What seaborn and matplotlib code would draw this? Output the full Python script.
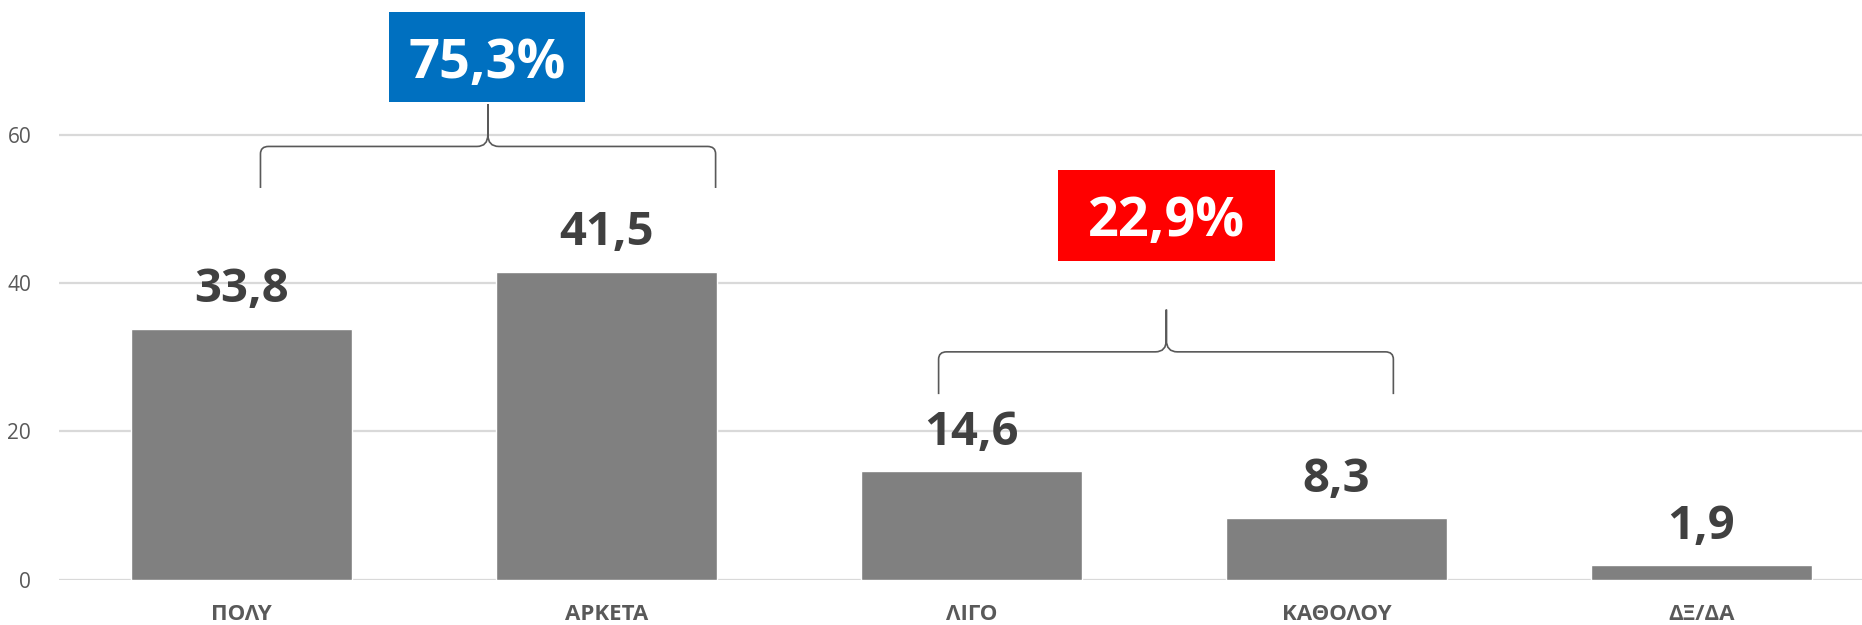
import matplotlib
matplotlib.use("Agg")
import matplotlib.pyplot as plt
import seaborn as sns
from matplotlib.path import Path
from matplotlib.patches import PathPatch, Rectangle

categories = ["ΠΟΛΥ", "ΑΡΚΕΤΑ", "ΛΙΓΟ", "ΚΑΘΟΛΟΥ", "ΔΞ/ΔΑ"]
values = [33.8, 41.5, 14.6, 8.3, 1.9]
value_labels = ["33,8", "41,5", "14,6", "8,3", "1,9"]
yticks = [0, 20, 40, 60]
group_labels = ["75,3%", "22,9%"]
group_colors = ["#0070C0", "#FF0000"]

sns.set_style("white")
plt.rcParams["font.family"] = ["Open Sans", "DejaVu Sans"]

fig = plt.figure(figsize=(18.62, 6.25), dpi=100)
ax = fig.add_axes([59 / 1862, 45.5 / 625, 1 - 59 / 1862, 579.5 / 625])

sns.barplot(x=categories, y=values, color="#808080", saturation=1, width=0.605, ax=ax, zorder=3)

ax.set_xlim(-0.5, 4.44)
ax.set_ylim(0, 78.15)
ax.set_yticks(yticks)
ax.set_yticklabels([str(t) for t in yticks])
ax.yaxis.grid(True, color="#D9D9D9", linewidth=1.6, zorder=0)
ax.set_axisbelow(True)
for s in ax.spines.values():
    s.set_visible(False)
ax.tick_params(axis="y", length=0, pad=20, labelsize=15, labelcolor="#595959")
ax.tick_params(axis="x", length=0, pad=18)
for lab in ax.get_xticklabels():
    lab.set_fontsize(16)
    lab.set_fontweight("bold")
    lab.set_color("#595959")
ax.set_xlabel("")
ax.set_ylabel("")

for i, (v, t) in enumerate(zip(values, value_labels)):
    ax.annotate(t, (i, v), xytext=(0, 19), textcoords="offset points",
                ha="center", va="baseline", fontsize=34, fontweight="bold",
                color="#404040")


def brace(ax, x0, x1, xm, y_end, y_h, y_tip, rx=0.022, ry=1.0, cx=0.03, cy=1.6):
    verts = [
        (x0, y_end), (x0, y_h - ry), (x0, y_h), (x0 + rx, y_h),
        (xm - cx, y_h), (xm, y_h), (xm, y_h + cy), (xm, y_tip),
        (xm, y_h + cy), (xm, y_h), (xm + cx, y_h),
        (x1 - rx, y_h), (x1, y_h), (x1, y_h - ry), (x1, y_end),
    ]
    codes = [
        Path.MOVETO, Path.LINETO, Path.CURVE3, Path.CURVE3,
        Path.LINETO, Path.CURVE3, Path.CURVE3, Path.LINETO,
        Path.LINETO, Path.CURVE3, Path.CURVE3,
        Path.LINETO, Path.CURVE3, Path.CURVE3, Path.LINETO,
    ]
    ax.add_patch(PathPatch(Path(verts, codes), fill=False, edgecolor="#595959",
                           linewidth=1.2, zorder=4))


def label_box(ax, x0, x1, y0, y1, text, color):
    ax.add_patch(Rectangle((x0, y0), x1 - x0, y1 - y0, facecolor=color,
                           edgecolor="none", zorder=5, clip_on=False))
    ax.text((x0 + x1) / 2, (y0 + y1) / 2, text, ha="center", va="center_baseline",
            fontsize=39, fontweight="bold", color="white", zorder=6)


brace(ax, 0.052, 1.299, 0.675, 52.8, 58.4, 64.1)
label_box(ax, 0.403, 0.942, 64.4, 76.5, group_labels[0], group_colors[0])

brace(ax, 1.91, 3.156, 2.534, 25.0, 30.7, 36.4)
label_box(ax, 2.236, 2.833, 43.0, 55.2, group_labels[1], group_colors[1])

fig.savefig("out.png", dpi=100)
